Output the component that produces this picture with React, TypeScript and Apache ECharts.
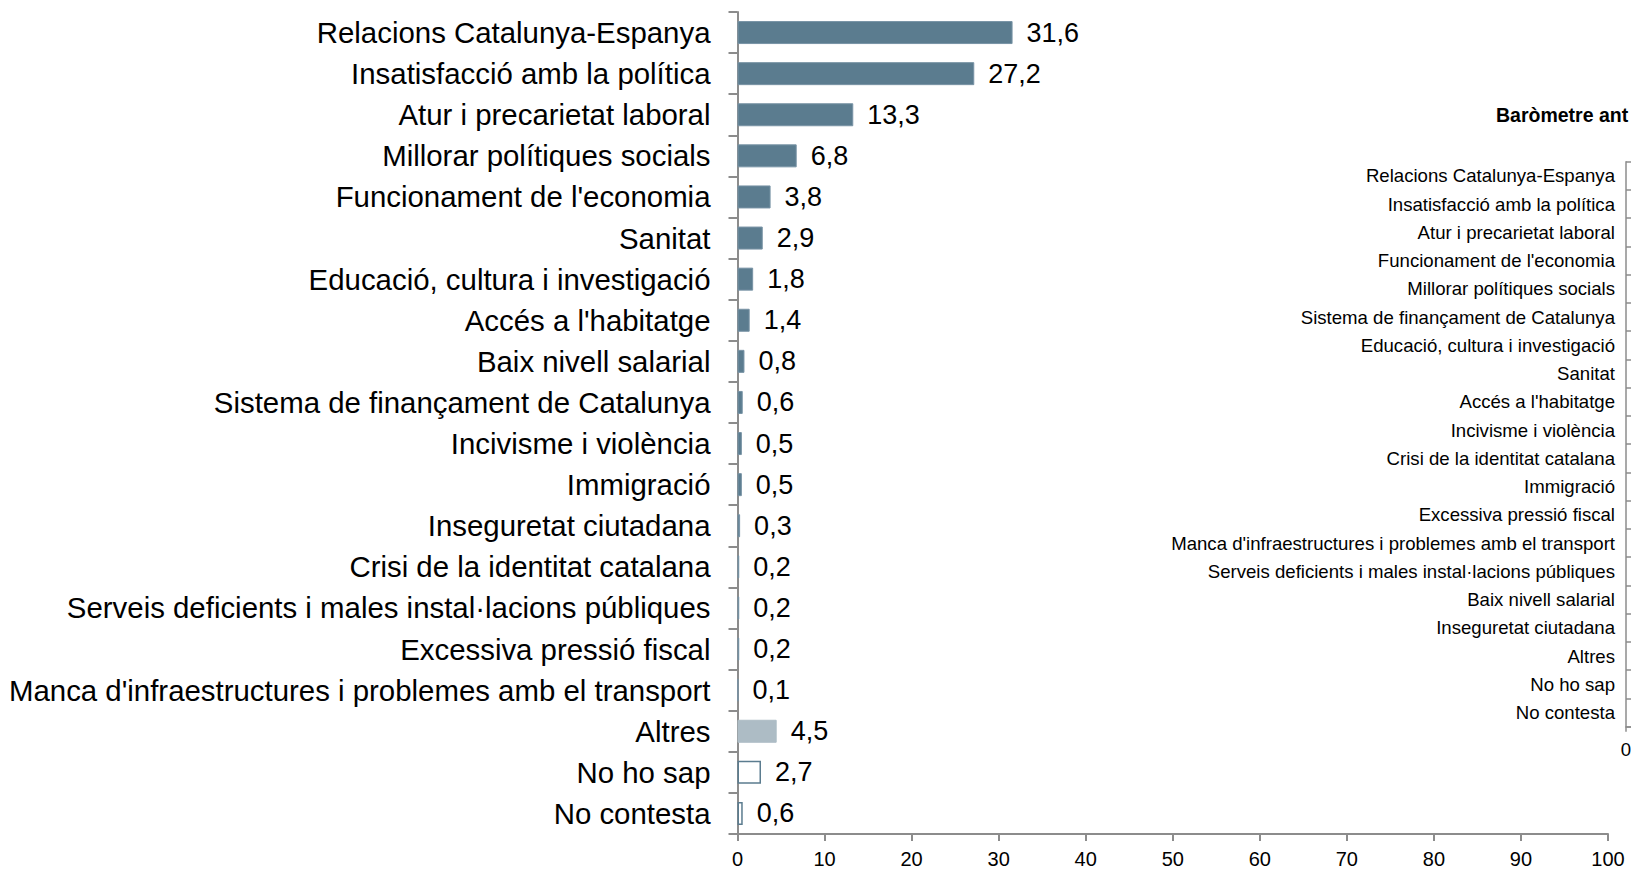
import React, { useEffect, useRef } from "react";
import * as echarts from "echarts";

const categories = [
  "Relacions Catalunya-Espanya",
  "Insatisfacció amb la política",
  "Atur i precarietat laboral",
  "Millorar polítiques socials",
  "Funcionament de l'economia",
  "Sanitat",
  "Educació, cultura i investigació",
  "Accés a l'habitatge",
  "Baix nivell salarial",
  "Sistema de finançament de Catalunya",
  "Incivisme i violència",
  "Immigració",
  "Inseguretat ciutadana",
  "Crisi de la identitat catalana",
  "Serveis deficients i males instal·lacions públiques",
  "Excessiva pressió fiscal",
  "Manca d'infraestructures i problemes amb el transport",
  "Altres",
  "No ho sap",
  "No contesta",
];

const values = [31.6, 27.2, 13.3, 6.8, 3.8, 2.9, 1.8, 1.4, 0.8, 0.6, 0.5, 0.5, 0.3, 0.2, 0.2, 0.2, 0.1, 4.5, 2.7, 0.6];

const prevTitle = "Baròmetre ant";
const prevCategories = [
  "Relacions Catalunya-Espanya",
  "Insatisfacció amb la política",
  "Atur i precarietat laboral",
  "Funcionament de l'economia",
  "Millorar polítiques socials",
  "Sistema de finançament de Catalunya",
  "Educació, cultura i investigació",
  "Sanitat",
  "Accés a l'habitatge",
  "Incivisme i violència",
  "Crisi de la identitat catalana",
  "Immigració",
  "Excessiva pressió fiscal",
  "Manca d'infraestructures i problemes amb el transport",
  "Serveis deficients i males instal·lacions públiques",
  "Baix nivell salarial",
  "Inseguretat ciutadana",
  "Altres",
  "No ho sap",
  "No contesta",
];
const prevVisibleTicks = [0];

const lightCats = ["Altres"];
const outlineCats = ["No ho sap", "No contesta"];

const FONT = "'Liberation Sans', Arial, sans-serif";
const DARK = "#5B7C8F";
const AXIS = "#8c8c8c";

export default function App() {
  const ref = useRef<HTMLDivElement>(null);
  useEffect(() => {
    if (!ref.current) return;
    const chart = echarts.init(ref.current, null, { renderer: "svg" });
    const data = categories.map((c, i) => {
      let itemStyle: any = { color: DARK, borderColor: "#7893a5", borderWidth: 1 };
      if (lightCats.includes(c)) itemStyle = { color: "#ADBCC5", borderColor: "#ADBCC5", borderWidth: 1 };
      if (outlineCats.includes(c)) itemStyle = { color: "#ffffff", borderColor: DARK, borderWidth: 1.5 };
      return { value: values[i], itemStyle };
    });
    chart.setOption({
      animation: false,
      backgroundColor: "#ffffff",
      textStyle: { fontFamily: FONT },
      title: {
        text: prevTitle,
        left: 1491,
        top: 100,
        textStyle: { fontFamily: FONT, fontSize: 19.5, fontWeight: "bold", color: "#000" },
      },
      grid: [
        { left: 737.5, top: 12, width: 870.5, height: 823 },
        { left: 1626, top: 161.7, width: 500, height: 565 },
      ],
      xAxis: [
        {
          gridIndex: 0,
          type: "value",
          min: 0,
          max: 100,
          interval: 10,
          splitLine: { show: false },
          axisLine: { show: true, lineStyle: { color: AXIS, width: 2 } },
          axisTick: { show: true, length: 7, lineStyle: { color: AXIS, width: 2 } },
          axisLabel: { fontFamily: FONT, fontSize: 20, color: "#000", margin: 15 },
        },
        {
          gridIndex: 1,
          type: "value",
          min: 0,
          max: 100,
          interval: 10,
          splitLine: { show: false },
          axisLine: { show: true, lineStyle: { color: AXIS, width: 1.5 } },
          axisTick: { show: true, length: 5, customValues: prevVisibleTicks, lineStyle: { color: AXIS, width: 1.5 } },
          axisLabel: { fontFamily: FONT, fontSize: 18.6, color: "#000", margin: 13, customValues: prevVisibleTicks },
        },
      ],
      yAxis: [
        {
          gridIndex: 0,
          type: "category",
          inverse: true,
          data: categories,
          axisLine: { show: true, lineStyle: { color: AXIS, width: 2 } },
          axisTick: { show: true, length: 9, lineStyle: { color: AXIS, width: 2 } },
          axisLabel: { fontFamily: FONT, fontSize: 29.4, color: "#000", margin: 27 },
        },
        {
          gridIndex: 1,
          type: "category",
          inverse: true,
          data: prevCategories,
          axisLine: { show: true, lineStyle: { color: AXIS, width: 1.5 } },
          axisTick: { show: true, inside: true, length: 5, lineStyle: { color: AXIS, width: 1.5 } },
          axisLabel: { fontFamily: FONT, fontSize: 18.6, color: "#000", margin: 11 },
        },
      ],
      series: [
        {
          type: "bar",
          xAxisIndex: 0,
          yAxisIndex: 0,
          barWidth: 23,
          data,
          label: {
            show: true,
            position: "right",
            distance: 14,
            fontFamily: FONT,
            fontSize: 27,
            color: "#000",
            formatter: (p: any) => String(p.value).replace(".", ","),
          },
        },
      ],
    });
    return () => chart.dispose();
  }, []);
  return (
    <div
      ref={ref}
      style={{ position: "fixed", left: 0, top: 0, width: 1631, height: 869, background: "#fff" }}
    />
  );
}
